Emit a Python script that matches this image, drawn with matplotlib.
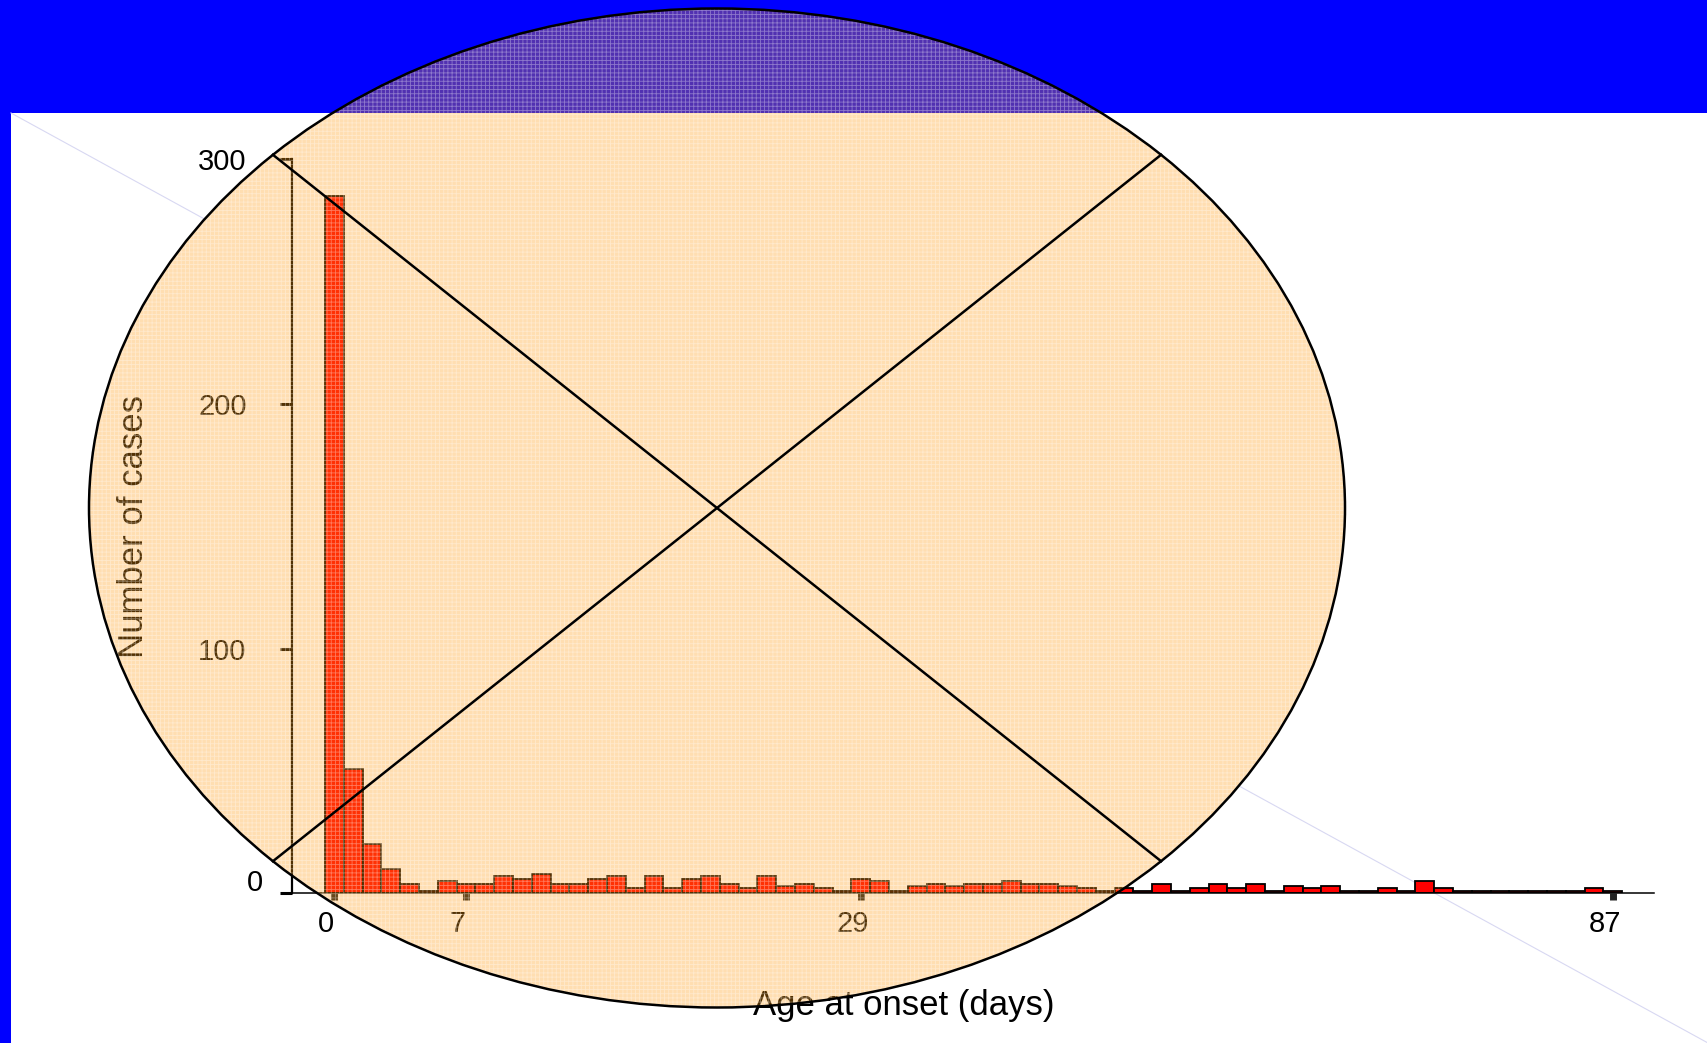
import matplotlib
matplotlib.use('Agg')
import matplotlib.pyplot as plt
import numpy as np
from matplotlib.patches import Ellipse, Rectangle
from matplotlib.transforms import ScaledTranslation

plt.rcParams['font.family'] = ['Liberation Sans', 'DejaVu Sans']

# cases per bar (one bar per age class)
counts = [285, 51, 20, 10, 4, 1, 5, 4, 4, 7,
          6, 8, 4, 4, 6, 7, 2, 7, 2, 6,
          7, 4, 2, 7, 3, 4, 2, 1, 6, 5,
          1, 3, 4, 3, 4, 4, 5, 4, 4, 3,
          2, 1, 2, 1, 4, 1, 2, 4, 2, 4,
          1, 3, 2, 3, 1, 1, 2, 1, 5, 2,
          1, 1, 1, 1, 1, 1, 1, 2, 1]
tick_bars = [0, 7, 28, 68]
tick_days = ['0', '7', '29', '87']
y_ticks = [0, 100, 200, 300]

W, H = 1708, 1043
BLUE = '#0000ff'
# ellipse overlay geometry, pixels
cx, cy, rx, ry = 717, 508, 628, 499.5


def px_rect(x0, y0, x1, y1):
    # pixel box with origin top-left -> figure fraction [l, b, w, h]
    return [x0 / W, 1 - y1 / H, (x1 - x0) / W, (y1 - y0) / H]


def px_axes(fig, zorder):
    a = fig.add_axes([0, 0, 1, 1], zorder=zorder)
    a.set_xlim(0, W)
    a.set_ylim(H, 0)
    a.axis('off')
    return a


fig = plt.figure(figsize=(W / 100, H / 100), dpi=100)
fig.patch.set_facecolor('white')

# slide background: blue title band and left strip, faint diagonal (hidden under the ellipse)
bg = px_axes(fig, 0)
bg.add_patch(Rectangle((0, 0), W, 113, color=BLUE, lw=0))
bg.add_patch(Rectangle((0, 0), 11, H, color=BLUE, lw=0))
xs = np.linspace(11, W, 3000)
ys = 113 + (xs - 11) * (H - 113) / (W - 11)
inside = ((xs - cx) / rx) ** 2 + ((ys - cy) / ry) ** 2 < 1
bg.plot(xs, np.ma.masked_where(inside, ys), color='#d8d8f2', lw=0.8)
bg.text(134, 526, 'Number of cases', rotation=90, ha='center', va='center', fontsize=25)
bg.text(904, 1006, 'Age at onset (days)', ha='center', va='center', fontsize=25)

# the histogram
ax = fig.add_axes(px_rect(291.7, 159.3, 1654, 893.3), zorder=1)
ax.patch.set_visible(False)
ax.bar(np.arange(len(counts)), counts, width=1.0, color='#ff0000',
       edgecolor='black', linewidth=1.3)
ax.set_xlim(-2.27, 70.19)
ax.set_ylim(0, 300)
for side in ('top', 'right'):
    ax.spines[side].set_visible(False)
ax.spines['left'].set_linewidth(1.6)
ax.spines['bottom'].set_linewidth(1.1)
ax.set_yticks(y_ticks)
ax.set_xticks(tick_bars)
ax.set_xticklabels(tick_days)
ax.tick_params(axis='y', direction='out', length=8.5, width=2.2, pad=24, labelsize=21)
ax.tick_params(axis='x', direction='out', length=5, width=5, pad=7, labelsize=21,
               color='#222222')

shift = fig.dpi_scale_trans
for lbl in ax.get_xticklabels():
    lbl.set_transform(lbl.get_transform() + ScaledTranslation(-0.08, 0, shift))
zero = ax.get_yticklabels()[0]
zero.set_transform(zero.get_transform() + ScaledTranslation(0.16, 0.13, shift))

# overlay: translucent orange ellipse with a fine light grid texture and a crossed-out X
ov = px_axes(fig, 2)
ov.add_patch(Ellipse((cx, cy), 2 * rx, 2 * ry, facecolor=(1.0, 0.6, 0.05, 0.32), lw=0))
plt.rcParams['hatch.linewidth'] = 0.6
ov.add_patch(Ellipse((cx, cy), 2 * rx, 2 * ry, facecolor='none',
                     edgecolor=(1, 1, 1, 0.35), hatch='++++', lw=0))
ov.add_patch(Ellipse((cx, cy), 2 * rx, 2 * ry, facecolor='none', edgecolor='black', lw=1.8))
dx, dy = rx * np.cos(np.pi / 4), ry * np.sin(np.pi / 4)
ov.plot([cx - dx, cx + dx], [cy - dy, cy + dy], color='black', lw=1.8)
ov.plot([cx - dx, cx + dx], [cy + dy, cy - dy], color='black', lw=1.8)

fig.savefig('out.png', dpi=100)
